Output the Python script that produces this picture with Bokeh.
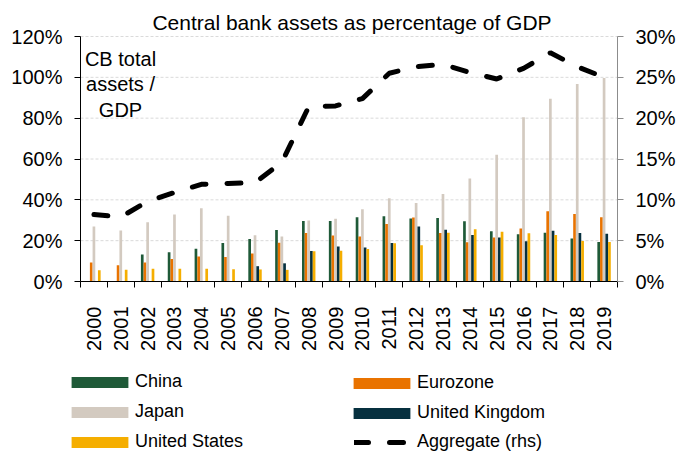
import math
from bokeh.plotting import figure
from bokeh.models import (ColumnDataSource, LinearAxis, Range1d, FixedTicker, Legend,
                          LegendItem, Label, PrintfTickFormatter)
from bokeh.transform import dodge
from bokeh.embed import file_html
from bokeh.resources import INLINE

nan = float("nan")

years = [str(y) for y in range(2000, 2020)]
china = [nan, nan, 13.2, 14.3, 16.1, 18.9, 20.8, 25.2, 29.6, 29.6,
         31.5, 32.0, 30.8, 31.1, 29.5, 24.6, 23.1, 23.9, 21.1, 19.3]
eurozone = [9.3, 8.0, 9.3, 11.0, 12.2, 12.0, 13.7, 19.0, 23.7, 22.5,
            22.1, 28.2, 31.3, 23.8, 19.2, 21.6, 25.9, 34.4, 33.1, 31.5]
japan = [27.0, 25.0, 29.0, 32.8, 35.9, 32.2, 22.6, 22.1, 29.9, 30.7,
         35.4, 40.8, 38.4, 42.8, 50.5, 62.1, 80.5, 89.5, 96.7, 99.7]
uk = [nan, nan, nan, nan, nan, nan, 7.5, 8.9, 15.0, 17.1,
      16.6, 18.9, 27.0, 25.4, 22.8, 21.5, 19.7, 24.9, 23.8, 23.4]
us = [5.5, 5.7, 6.2, 6.2, 6.2, 6.0, 5.9, 5.7, 14.8, 15.1,
      15.9, 18.7, 17.7, 23.9, 25.6, 24.4, 23.6, 22.8, 19.8, 19.3]
aggregate = [8.2, 7.9, 9.8, 10.9, 11.9, 12.0, 12.1, 14.6, 21.4, 21.5,
             22.4, 25.5, 26.3, 26.6, 25.6, 24.8, 26.1, 28.0, 26.3, 25.0]

left_ticks = [0, 20, 40, 60, 80, 100, 120]
right_ticks = [0, 5, 10, 15, 20, 25, 30]

FONT = "Liberation Sans"
KEYS = ["china", "eurozone", "japan", "uk", "us"]
NAMES = {"china": "China", "eurozone": "Eurozone", "japan": "Japan",
         "uk": "United Kingdom", "us": "United States"}
COLORS = {"china": "#1F5A38", "eurozone": "#E97300", "japan": "#D3CAC0",
          "uk": "#06303F", "us": "#F5AE00"}

# page layout (pixels): the chart area sits inside a full-canvas frame so that
# the title and legend (outside the chart area) are not clipped
W, H = 678, 454
FL, FR, FT, FB = 80, 617, 36, 281
n = len(years)
ppx = (FR - FL) / n
ppy = (FB - FT) / left_ticks[-1]
x0 = -0.5 - FL / ppx
x1 = n - 0.5 + (W - FR) / ppx
y1 = left_ticks[-1] + FT / ppy
y0 = -(H - FB) / ppy
k = right_ticks[-1] / left_ticks[-1]

src = ColumnDataSource(dict(x=list(range(n)), china=china, eurozone=eurozone,
                            japan=japan, uk=uk, us=us, agg=aggregate))

p = figure(width=W, height=H, x_range=Range1d(x0, x1), y_range=Range1d(y0, y1),
           output_backend="svg", toolbar_location=None, min_border=0)
p.outline_line_color = None
p.border_fill_color = "white"
p.extra_y_ranges = {"rhs": Range1d(y0 * k, y1 * k)}
p.xgrid.visible = False
p.ygrid.visible = False

# gridlines limited to the chart area
gsrc = ColumnDataSource(dict(y=left_ticks[1:]))
p.segment(x0=-0.5, x1=n - 0.5, y0="y", y1="y", source=gsrc,
          line_color="#DADADA", line_dash="3 2", line_width=1)

# bars
rend = {}
for key, off in zip(KEYS, [-0.2, -0.1, 0.0, 0.1, 0.2]):
    rend[key] = p.vbar(x=dodge("x", off, range=p.x_range), top=key, width=0.1,
                       source=src, fill_color=COLORS[key], line_color=None)

rend["agg"] = p.line(x="x", y="agg", source=src, y_range_name="rhs", line_color="black",
                     line_width=5, line_dash="14 21", line_cap="round")

# axes
xa = p.xaxis[0]
xa.fixed_location = 0
xa.bounds = (-0.5, n - 0.5)
xa.ticker = FixedTicker(ticks=list(range(n)),
                        minor_ticks=[i - 0.5 for i in range(n + 1)])
xa.major_label_overrides = {i: y for i, y in enumerate(years)}
xa.major_label_orientation = math.pi / 2
xa.major_tick_out = 0
xa.major_tick_in = 0
xa.minor_tick_out = 6
xa.minor_tick_in = 0
xa.minor_tick_line_color = "black"
xa.axis_line_color = "black"
xa.major_label_standoff = 19
xa.major_label_text_font = FONT
xa.major_label_text_font_size = "20px"
xa.major_label_text_color = "black"

ya = p.yaxis[0]
ya.fixed_location = -0.5
ya.bounds = (0, left_ticks[-1])
ya.ticker = FixedTicker(ticks=left_ticks)
ya.formatter = PrintfTickFormatter(format="%d%%")
ya.major_tick_out = 6
ya.major_tick_in = 0
ya.minor_tick_line_color = None
ya.axis_line_color = "black"
ya.major_tick_line_color = "black"
ya.major_label_standoff = 12
ya.major_label_text_font = FONT
ya.major_label_text_font_size = "20px"
ya.major_label_text_color = "black"

ra = LinearAxis(y_range_name="rhs", ticker=FixedTicker(ticks=right_ticks),
                formatter=PrintfTickFormatter(format="%d%%"))
ra.fixed_location = n - 0.5
ra.bounds = (0, right_ticks[-1])
ra.major_tick_out = 6
ra.major_tick_in = 0
ra.minor_tick_line_color = None
ra.axis_line_color = "#8C8C8C"
ra.major_tick_line_color = "#8C8C8C"
ra.major_label_standoff = 12
ra.major_label_text_font = FONT
ra.major_label_text_font_size = "20px"
ra.major_label_text_color = "black"
p.add_layout(ra, "right")

# title and in-chart note
p.add_layout(Label(x=351.5, y=H - 21.5, x_units="screen", y_units="screen",
                   text="Central bank assets as percentage of GDP", text_align="center",
                   text_baseline="middle", text_font=FONT, text_font_size="21px",
                   text_color="black"))
p.add_layout(Label(x=120, y=H - 47, x_units="screen", y_units="screen",
                   text="CB total\nassets /\nGDP", text_align="center",
                   text_baseline="top", text_font=FONT, text_font_size="20px",
                   text_color="black", text_line_height=1.17))


def make_legend(items, loc, gw, standoff):
    return Legend(items=items, location=loc, glyph_width=gw, glyph_height=14,
                  label_height=20, spacing=9, padding=0, margin=0,
                  border_line_color=None, background_fill_alpha=0,
                  label_text_font=FONT, label_text_font_size="18px",
                  label_standoff=standoff, label_text_color="black")


# area swatches are drawn inset by 10%, so their glyph box is enlarged (71 x 14)
leg1 = make_legend([LegendItem(label=NAMES[c], renderers=[rend[c]])
                    for c in ["china", "japan", "us"]], (64, 2), 71, 0)
leg2 = make_legend([LegendItem(label=NAMES[c], renderers=[rend[c]])
                    for c in ["eurozone", "uk"]], (346, 31), 71, 0)
leg3 = make_legend([LegendItem(label="Aggregate (rhs)", renderers=[rend["agg"]])],
                   (354, 2), 53, 10)
p.add_layout(leg1)
p.add_layout(leg2)
p.add_layout(leg3)

open("out.html", "w").write(file_html(p, INLINE))
